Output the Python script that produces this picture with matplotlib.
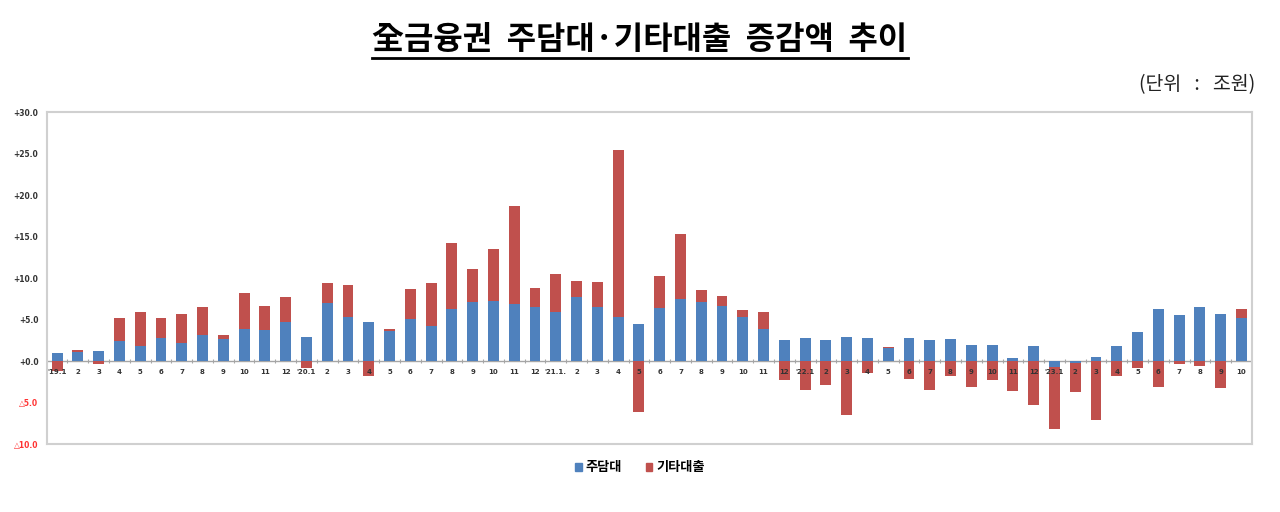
import numpy as np
import matplotlib
matplotlib.use('Agg')
import matplotlib.pyplot as plt
from matplotlib.lines import Line2D
from matplotlib.patches import Patch

plt.rcParams['font.family'] = ['Noto Sans CJK KR', 'DejaVu Sans']

# 월별 라벨 ('19.1 ~ '23.10)
labels = ["'19.1", "2", "3", "4", "5", "6", "7", "8", "9", "10", "11", "12",
          "'20.1", "2", "3", "4", "5", "6", "7", "8", "9", "10", "11", "12",
          "'21.1.", "2", "3", "4", "5", "6", "7", "8", "9", "10", "11", "12",
          "'22.1", "2", "3", "4", "5", "6", "7", "8", "9", "10", "11", "12",
          "'23.1", "2", "3", "4", "5", "6", "7", "8", "9", "10"]

# 주담대 (조원)
mortgage = [1.0, 1.1, 1.2, 2.4, 1.8, 2.8, 2.2, 3.2, 2.7, 3.9, 3.8, 4.7,
            3.0, 7.0, 5.3, 4.8, 3.7, 5.1, 4.3, 6.3, 7.2, 7.3, 6.9, 6.6,
            5.9, 7.8, 6.5, 5.3, 4.5, 6.4, 7.5, 7.2, 6.7, 5.3, 3.9, 2.6,
            2.8, 2.6, 3.0, 2.8, 1.6, 2.8, 2.6, 2.7, 2.0, 2.0, 0.45, 1.8,
            -0.7, -0.2, 0.5, 1.8, 3.6, 6.3, 5.6, 6.6, 5.7, 5.2]

# 기타대출 (조원)
other = [-1.2, 0.3, -0.3, 2.8, 4.1, 2.4, 3.5, 3.3, 0.5, 4.4, 2.9, 3.1,
         -0.8, 2.5, 3.9, -1.7, 0.2, 3.6, 5.1, 8.0, 3.9, 6.3, 11.8, 2.2,
         4.6, 1.9, 3.1, 20.2, -6.1, 3.9, 7.9, 1.4, 1.2, 0.9, 2.1, -2.3,
         -3.5, -2.8, -6.5, -1.4, 0.15, -2.1, -3.4, -1.8, -3.1, -2.2, -3.6, -5.3,
         -7.4, -3.5, -7.0, -1.7, -0.85, -3.1, -0.3, -0.5, -3.2, 1.1]

yticks = [30, 25, 20, 15, 10, 5, 0, -5, -10]
ytick_labels = ['+30.0', '+25.0', '+20.0', '+15.0', '+10.0', '+5.0', '+0.0', '△5.0', '△10.0']

BLUE = '#4F81BD'
RED = '#C0504D'

fig = plt.figure(figsize=(12.8, 5.12), dpi=100)
ax = fig.add_axes([0.0365, 0.132, 0.9415, 0.6485])

x = np.arange(len(labels))
m = np.array(mortgage)
o = np.array(other)
# 양수는 위로, 음수는 아래로 쌓기 (엑셀 누적 막대 방식)
o_bottom = np.where(o >= 0, np.maximum(m, 0), np.minimum(m, 0))

ax.bar(x, m, width=0.52, color=BLUE, zorder=2)
ax.bar(x, o, width=0.52, bottom=o_bottom, color=RED, zorder=2)

ax.axhline(0, color='#a6a6a6', lw=1, zorder=1)
ax.plot(x[:-1] + 0.5, np.zeros(len(x) - 1), '|', color='#a6a6a6', ms=3, mew=0.8, zorder=1)

for xi, lab in zip(x, labels):
    ax.text(xi, -1.25, lab, ha='center', va='center', fontsize=5,
            fontweight='bold', color='#333333', zorder=3, family='DejaVu Sans')

ax.set_xlim(-0.5, len(labels) - 0.5)
ax.set_ylim(-10, 30)
ax.set_xticks([])
ax.set_yticks(yticks)
ax.set_yticklabels(ytick_labels, fontsize=5.5, fontweight='bold', family='DejaVu Sans')
for t, v in zip(ax.get_yticklabels(), yticks):
    t.set_color('#ff3333' if v < 0 else '#333333')
ax.tick_params(axis='y', length=0, pad=6)
for s in ax.spines.values():
    s.set_color('#d0d0d0')
    s.set_linewidth(1.5)

title = fig.text(0.5, 0.922, '全금융권  주담대·기타대출  증감액  추이', ha='center', va='center',
                 fontsize=23, fontweight='bold', color='black')
fig.text(0.981, 0.835, '(단위   :   조원)', ha='right', va='center', fontsize=14, color='#222222')

handles = [Patch(color=BLUE, label='주담대'), Patch(color=RED, label='기타대출')]
fig.legend(handles=handles, loc='center', bbox_to_anchor=(0.5, 0.087), ncol=2, frameon=False,
           prop={'size': 9.5, 'weight': 'bold'}, handlelength=0.5, handleheight=0.5,
           handletextpad=0.3, columnspacing=1.8)

# 제목 밑줄
fig.canvas.draw()
bb = title.get_window_extent().transformed(fig.transFigure.inverted())
fig.add_artist(Line2D([bb.x0, bb.x1], [bb.y0 - 0.004, bb.y0 - 0.004], color='black', lw=2,
                      transform=fig.transFigure))

fig.savefig('out.png', dpi=100, facecolor='white')
